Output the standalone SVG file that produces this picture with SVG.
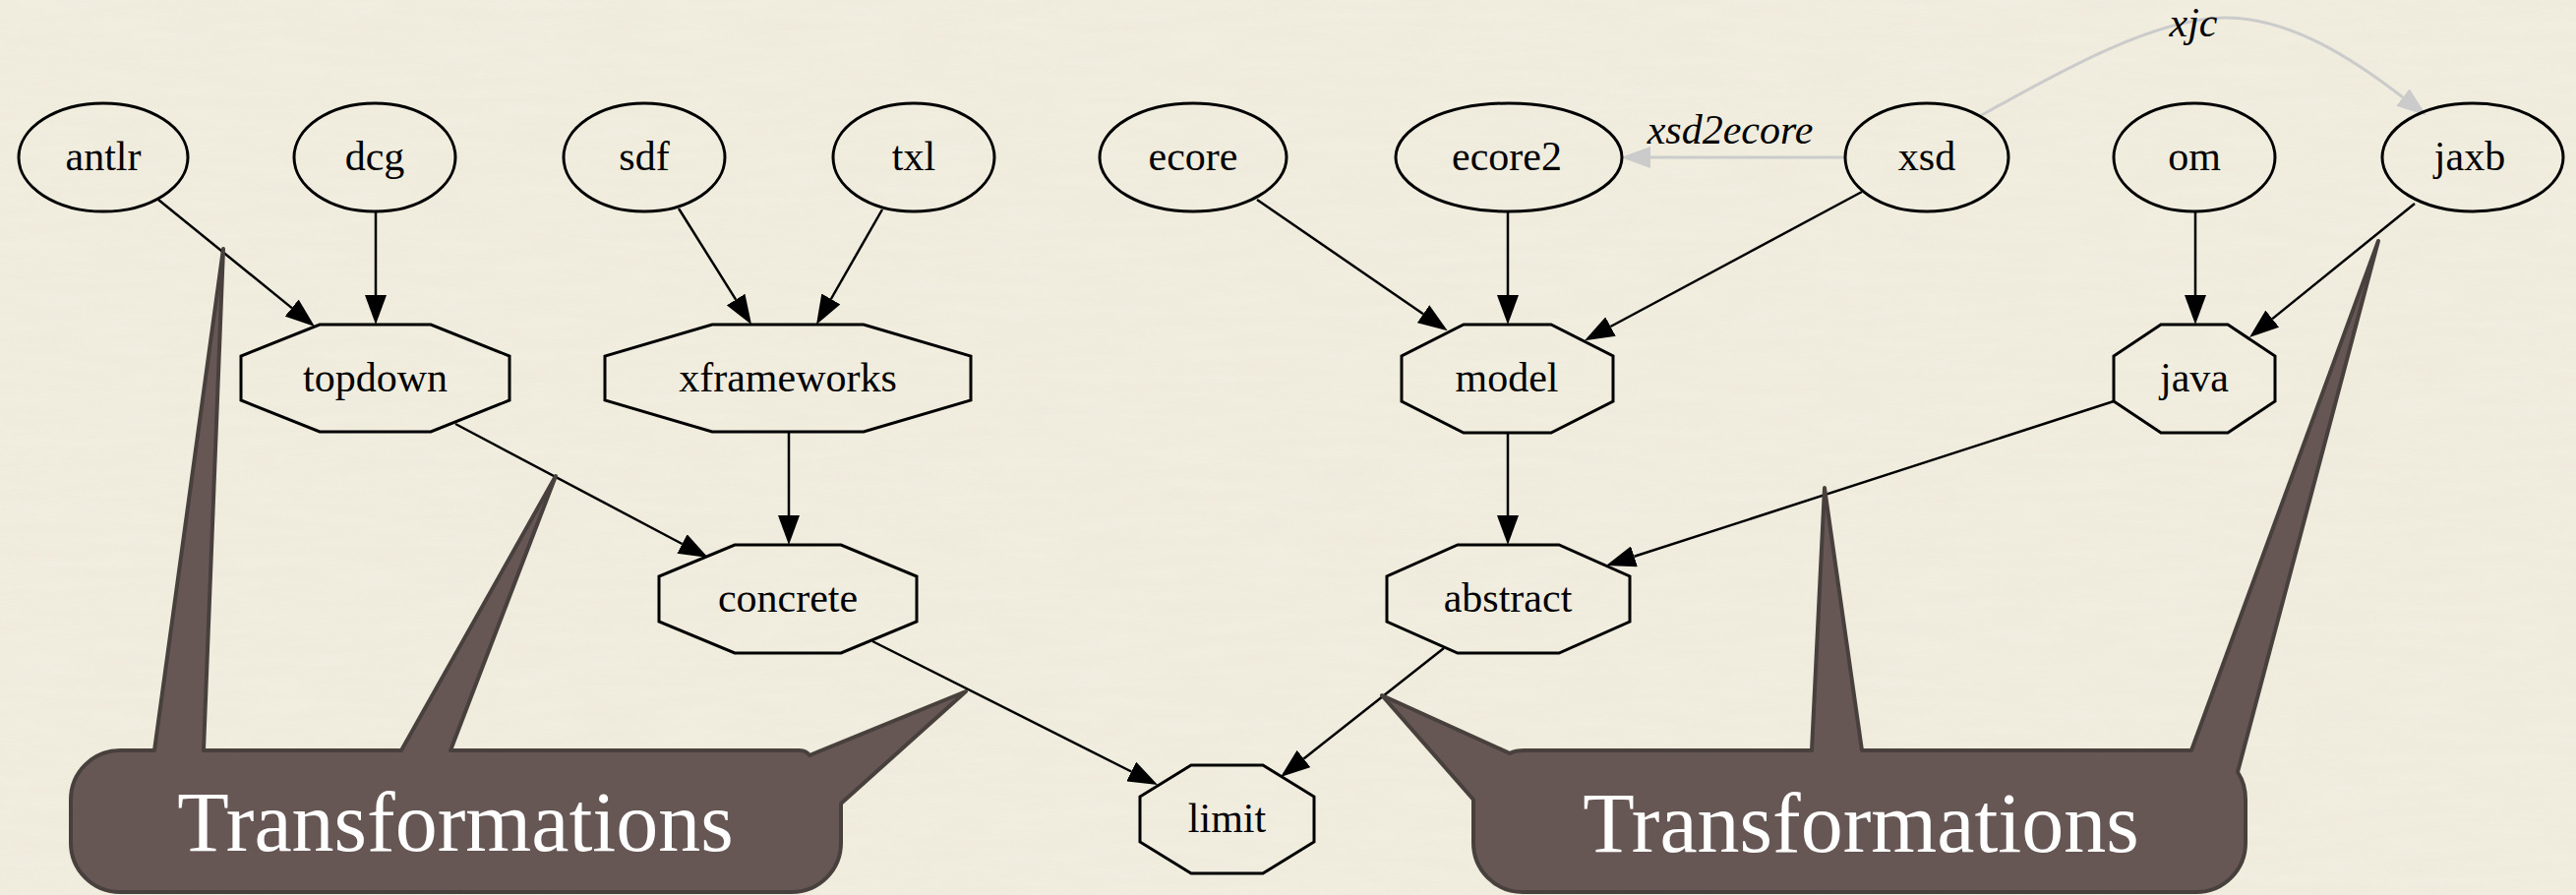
<svg xmlns="http://www.w3.org/2000/svg" width="2619" height="910" viewBox="0 0 2619 910">
<style>
.shape{fill:none;stroke:#000;stroke-width:3}
.lbl{font-family:"Liberation Serif","Times New Roman",serif;font-size:42px;fill:#000;text-anchor:middle}
.elbl{font-family:"Liberation Serif","Times New Roman",serif;font-size:42px;font-style:italic;fill:#000;text-anchor:middle}
.edge{fill:none;stroke:#000;stroke-width:2.5}
.gedge{fill:none;stroke:#cbcbcb;stroke-width:3}
.callout{fill:#665755;stroke:#48403d;stroke-width:4;stroke-linejoin:round}
.ctext{font-family:"Liberation Serif","Times New Roman",serif;font-size:86px;fill:#fff;text-anchor:middle}
</style>
<defs>
<marker id="ah" viewBox="0 0 30 22" refX="0" refY="11" markerWidth="30" markerHeight="22" markerUnits="userSpaceOnUse" orient="auto"><path d="M0,0 L30,11 L0,22 Z" fill="#000"/></marker>
<marker id="gah" viewBox="0 0 30 22" refX="0" refY="11" markerWidth="30" markerHeight="22" markerUnits="userSpaceOnUse" orient="auto"><path d="M0,0 L30,11 L0,22 Z" fill="#cbcbcb"/></marker>
<filter id="paper" x="0" y="0" width="100%" height="100%">
<feTurbulence type="fractalNoise" baseFrequency="0.012 0.09" numOctaves="3" seed="4" result="n"/>
<feColorMatrix in="n" type="matrix" values="0 0 0 0 0.45  0 0 0 0 0.42  0 0 0 0 0.33  0 0 0 0.12 0"/>
</filter>
</defs>
<rect x="0" y="0" width="2619" height="910" fill="#f2eee0"/>
<rect x="0" y="0" width="2619" height="910" filter="url(#paper)" opacity="0.5"/>
<g id="connectors">
<path class="edge" marker-end="url(#ah)" d="M161,203 L296.7,313.1"/>
<path class="edge" marker-end="url(#ah)" d="M382,215 L382,300"/>
<path class="edge" marker-end="url(#ah)" d="M690,212 L748.1,304.6"/>
<path class="edge" marker-end="url(#ah)" d="M897,213 L844.9,304"/>
<path class="edge" marker-end="url(#ah)" d="M463,431 L693.5,553"/>
<path class="edge" marker-end="url(#ah)" d="M802,439 L802,524"/>
<path class="edge" marker-end="url(#ah)" d="M887,652 L1150.2,784.5"/>
<path class="edge" marker-end="url(#ah)" d="M1468,659 L1325.5,771.4"/>
<path class="edge" marker-end="url(#ah)" d="M1278,203 L1447,319.2"/>
<path class="edge" marker-end="url(#ah)" d="M1533,215 L1533,300"/>
<path class="edge" marker-end="url(#ah)" d="M1893,195 L1637.5,332"/>
<path class="edge" marker-end="url(#ah)" d="M2232,215 L2232,300"/>
<path class="edge" marker-end="url(#ah)" d="M2455,207 L2310.3,324.1"/>
<path class="edge" marker-end="url(#ah)" d="M1533,440 L1533,524"/>
<path class="edge" marker-end="url(#ah)" d="M2149,408 L1661.5,565.8"/>
<path class="gedge" marker-end="url(#gah)" d="M1876,160 L1678,160"/>
<text class="elbl" x="1759" y="146">xsd2ecore</text>
<path class="gedge" marker-end="url(#gah)" d="M2013,118 C2090,75 2190,18 2263,18 C2330,18 2395,62 2443,99"/>
<text class="elbl" x="2230" y="37">xjc</text>
</g>
<g id="antlr"><ellipse class="shape" cx="105" cy="160" rx="86" ry="55"/><text class="lbl" x="105" y="173">antlr</text></g>
<g id="dcg"><ellipse class="shape" cx="381" cy="160" rx="82" ry="55"/><text class="lbl" x="381" y="173">dcg</text></g>
<g id="sdf"><ellipse class="shape" cx="655" cy="160" rx="82" ry="55"/><text class="lbl" x="655" y="173">sdf</text></g>
<g id="txl"><ellipse class="shape" cx="929" cy="160" rx="82" ry="55"/><text class="lbl" x="929" y="173">txl</text></g>
<g id="ecore"><ellipse class="shape" cx="1213" cy="160" rx="95" ry="55"/><text class="lbl" x="1213" y="173">ecore</text></g>
<g id="ecore2"><ellipse class="shape" cx="1534" cy="160" rx="115" ry="55"/><text class="lbl" x="1532" y="173">ecore2</text></g>
<g id="xsd"><ellipse class="shape" cx="1959" cy="160" rx="83" ry="55"/><text class="lbl" x="1959" y="173">xsd</text></g>
<g id="om"><ellipse class="shape" cx="2231" cy="160" rx="82" ry="55"/><text class="lbl" x="2231" y="173">om</text></g>
<g id="jaxb"><ellipse class="shape" cx="2514" cy="160" rx="92" ry="55"/><text class="lbl" x="2511" y="173">jaxb</text></g>
<g id="topdown"><polygon class="shape" points="325,330 438,330 518,362 518,407 438,439 325,439 245,407 245,362"/><text class="lbl" x="381.5" y="398">topdown</text></g>
<g id="xframeworks"><polygon class="shape" points="724,330 878,330 987,362 987,407 878,439 724,439 615,407 615,362"/><text class="lbl" x="801" y="398">xframeworks</text></g>
<g id="model"><polygon class="shape" points="1488,330 1577,330 1640,362 1640,408 1577,440 1488,440 1425,408 1425,362"/><text class="lbl" x="1532" y="398">model</text></g>
<g id="java"><polygon class="shape" points="2197,330 2265,330 2313,362 2313,408 2265,440 2197,440 2149,408 2149,362"/><text class="lbl" x="2231" y="398">java</text></g>
<g id="concrete"><polygon class="shape" points="747,554 855,554 932,586 932,632 855,664 747,664 670,632 670,586"/><text class="lbl" x="801" y="622">concrete</text></g>
<g id="abstract"><polygon class="shape" points="1482,554 1585,554 1657,586 1657,632 1585,664 1482,664 1410,632 1410,586"/><text class="lbl" x="1533" y="622">abstract</text></g>
<g id="limit"><polygon class="shape" points="1211,778 1284,778 1336,810 1336,856 1284,888 1211,888 1159,856 1159,810"/><text class="lbl" x="1247.5" y="846">limit</text></g>
<g id="callout-left">
<path class="callout" d="M72,813 A50,50 0 0 1 122,763 L157,763 L227,253 L207,763 L408,763 L565,484 L458,763 L812,763 Q820,763 823,768 L982,703 L855,817 L855,857 A50,50 0 0 1 805,907 L122,907 A50,50 0 0 1 72,857 Z"/>
<text class="ctext" x="463" y="865">Transformations</text>
</g>
<g id="callout-right">
<path class="callout" d="M1405,707 L1535,766 Q1540,763 1550,763 L1842,763 L1855,496 L1893,763 L2228,763 L2418,245 L2275,785 Q2283,797 2283,813 L2283,857 A50,50 0 0 1 2233,907 L1548,907 A50,50 0 0 1 1498,857 L1498,813 Z"/>
<text class="ctext" x="1892" y="866">Transformations</text>
</g>
</svg>
